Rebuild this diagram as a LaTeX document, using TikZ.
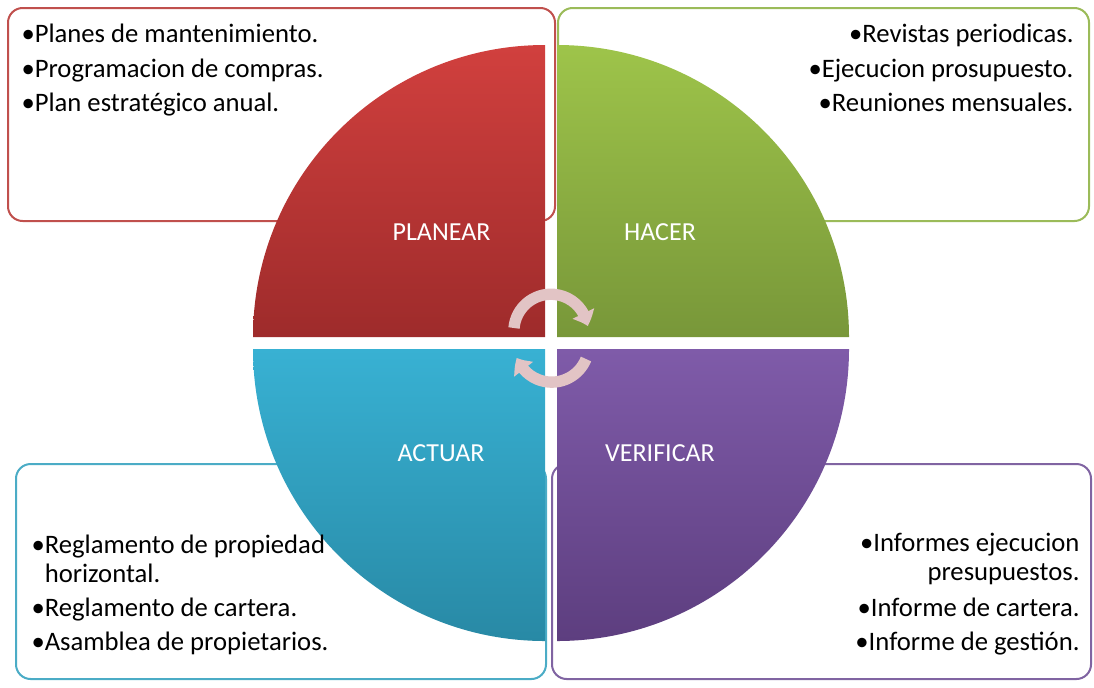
\documentclass[tikz,border=0pt]{standalone}
\usepackage{fontspec}
\setmainfont{Carlito}
\usetikzlibrary{arrows.meta,bending}

\definecolor{planline}{RGB}{192,80,77}
\definecolor{doline}{RGB}{155,187,89}
\definecolor{actline}{RGB}{75,172,198}
\definecolor{checkline}{RGB}{128,100,162}
\definecolor{turncolor}{RGB}{226,196,197}

\tikzset{every picture/.style={line width=0.75pt}}
\tikzset{
  listbox/.style={line width=1.5pt, rounded corners=11pt, fill=white},
  item/.style={inner sep=0pt, text=black, font=\fontsize{20}{22}\selectfont},
  stage/.style={inner sep=0pt, text=white, font=\fontsize{19.5}{22}\selectfont},
  turn/.style={line width=8.5pt, draw=turncolor, -{Triangle[width=17.5pt,length=10pt,bend]}}
}

\begin{document}
\begin{tikzpicture}[x=0.75pt,y=0.75pt,yscale=-1,xscale=1]
	\useasboundingbox (0,0) rectangle (1094,687);

	%Shape: Rounded Rect [id:planbox]
	\draw [listbox, draw=planline] (8,8) rectangle (555,221);
	%Shape: Rounded Rect [id:dobox]
	\draw [listbox, draw=doline] (558,8) rectangle (1089,221);
	%Shape: Rounded Rect [id:actbox]
	\draw [listbox, draw=actline] (16,464) rectangle (546,679);
	%Shape: Rounded Rect [id:checkbox]
	\draw [listbox, draw=checkline] (552,464) rectangle (1091,679);

	%Shape: Quarter circle [id:planq]
	\path [top color={rgb,255:red,209;green,64;blue,62}, bottom color={rgb,255:red,158;green,43;blue,43}] (545,337) -- (253,337) arc [start angle=180, end angle=270, radius=292] -- cycle ;
	%Shape: Quarter circle [id:doq]
	\path [top color={rgb,255:red,158;green,196;blue,74}, bottom color={rgb,255:red,120;green,151;blue,57}] (557,337) -- (557,45) arc [start angle=270, end angle=360, radius=292] -- cycle ;
	%Shape: Quarter circle [id:actq]
	\path [top color={rgb,255:red,56;green,177;blue,211}, bottom color={rgb,255:red,40;green,137;blue,165}] (545,349) -- (545,641) arc [start angle=90, end angle=180, radius=292] -- cycle ;
	%Shape: Quarter circle [id:checkq]
	\path [top color={rgb,255:red,127;green,91;blue,169}, bottom color={rgb,255:red,93;green,62;blue,127}] (557,349) -- (849,349) arc [start angle=0, end angle=90, radius=292] -- cycle ;

	% Text Node
	\node [stage] (planear) at (441.5,232.5) {PLANEAR};
	% Text Node
	\node [stage] (hacer) at (660,232.5) {HACER};
	% Text Node
	\node [stage] (actuar) at (441,452.7) {ACTUAR};
	% Text Node
	\node [stage] (verificar) at (660,452.7) {VERIFICAR};

	% Text Node
	\node [item, anchor=base west] (p1) at (21,42) {•Planes de mantenimiento.};
	\node [item, anchor=base west] (p2) at (21,77) {•Programacion de compras.};
	\node [item, anchor=base west] (p3) at (21,111.5) {•Plan estratégico anual.};
	% Text Node
	\node [item, anchor=base east] (h1) at (1074,42) {•Revistas periodicas.};
	\node [item, anchor=base east] (h2) at (1074,77) {•Ejecucion prosupuesto.};
	\node [item, anchor=base east] (h3) at (1074,111.5) {•Reuniones mensuales.};
	% Text Node
	\node [item, anchor=base west] (a1) at (31,553) {•Reglamento de propiedad};
	\node [item, anchor=base west] (a1b) at (31,582) {\phantom{•}horizontal.};
	\node [item, anchor=base west] (a2) at (31,616.5) {•Reglamento de cartera.};
	\node [item, anchor=base west] (a3) at (31,650) {•Asamblea de propietarios.};
	% Text Node
	\node [item, anchor=base east] (v1) at (1080,551.7) {•Informes ejecucion};
	\node [item, anchor=base east] (v1b) at (1080,580.5) {presupuestos.};
	\node [item, anchor=base east] (v2) at (1080,616.7) {•Informe de cartera.};
	\node [item, anchor=base east] (v3) at (1080,650) {•Informe de gestión.};

	%Shape: Circular Arrow [id:turntop]
	\draw [turn] (514,328) arc [start angle=185, end angle=352, radius=37] ;
	%Shape: Circular Arrow [id:turnbottom]
	\draw [turn] (586,359) arc [start angle=22, end angle=160, radius=37] ;

\end{tikzpicture}
\end{document}
